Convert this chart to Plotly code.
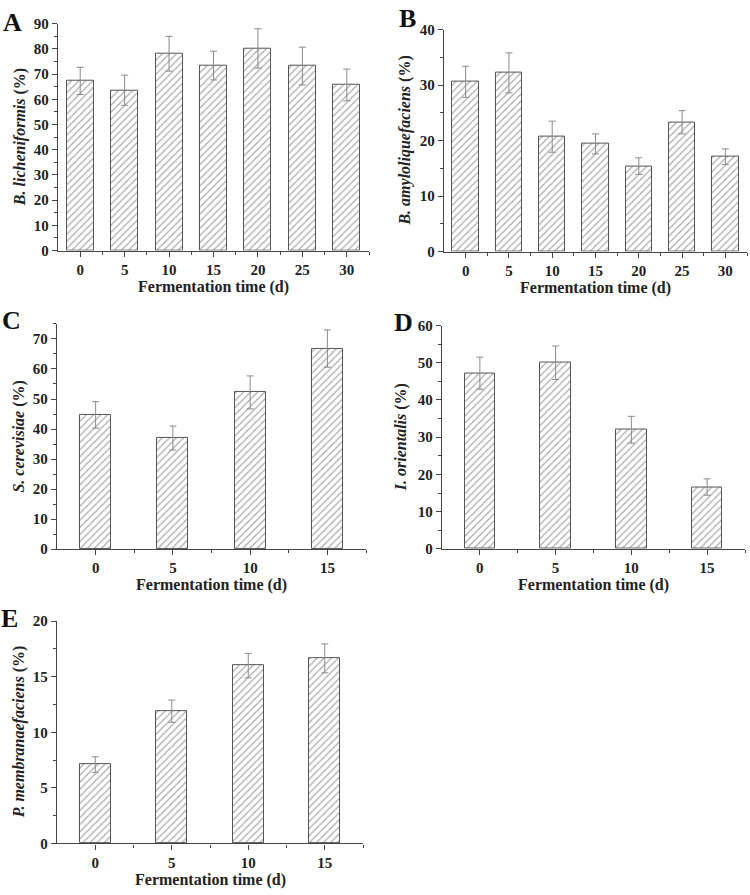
import plotly.graph_objects as go

W, H = 750, 895

# ---------------- data ----------------
days_long = [0, 5, 10, 15, 20, 25, 30]
days_short = [0, 5, 10, 15]

b_lich = [67.3, 63.6, 78.1, 73.4, 80.2, 73.2, 65.7]
b_lich_err = [5.4, 6.0, 6.9, 5.7, 7.8, 7.5, 6.3]

b_amyl = [30.6, 32.2, 20.7, 19.4, 15.4, 23.3, 17.1]
b_amyl_err = [2.8, 3.6, 2.8, 1.8, 1.5, 2.1, 1.4]

s_cer = [44.7, 37.0, 52.2, 66.8]
s_cer_err = [4.4, 4.0, 5.5, 6.2]

i_ori = [47.2, 50.0, 32.0, 16.6]
i_ori_err = [4.3, 4.5, 3.6, 2.2]

p_mem = [7.1, 11.9, 16.0, 16.65]
p_mem_err = [0.7, 1.0, 1.1, 1.3]

panels = [
    # letter, x, y, err, ytitle, ymax, ydtick, yminor
    ("A", days_long, b_lich, b_lich_err, "B. licheniformis", 90, 10, 5),
    ("B", days_long, b_amyl, b_amyl_err, "B. amyloliquefaciens", 40, 10, 5),
    ("C", days_short, s_cer, s_cer_err, "S. cerevisiae", 75, 10, 5),
    ("D", days_short, i_ori, i_ori_err, "I. orientalis", 60, 10, 5),
    ("E", days_short, p_mem, p_mem_err, "P. membranaefaciens", 20, 5, 2.5),
]

# pixel layout of each axes box: (left, right, bottom(y of 0), top)
boxes = [
    (58, 369, 247, 16),
    (444, 747, 248, 22),
    (57, 366, 551, 321.7),
    (442, 745, 550.7, 323.3),
    (57, 363, 850.7, 624.3),
]
letter_pos = [(12, 15), (407, 11), (11, 318), (403, 320), (9, 622)]
ytitle_x = [20, 405, 19, 401, 19]

FONT = "Liberation Serif"
AXC = "#444444"

fig = go.Figure()
annotations = []
layout = {}

for i, ((letter, xs, ys, es, ytitle, ymax, ydt, ymin_dt), (l, r, b, t)) in enumerate(zip(panels, boxes)):
    n = i + 1
    xa = "xaxis" if n == 1 else f"xaxis{n}"
    ya = "yaxis" if n == 1 else f"yaxis{n}"
    xr = "x" if n == 1 else f"x{n}"
    yr = "y" if n == 1 else f"y{n}"
    long = len(xs) == 7
    width = 3.05 if long else 2.0
    xrange = [-2.5, 32.5] if long else [-2.5, 17.5]

    fig.add_trace(go.Bar(
        x=xs, y=ys, width=width, xaxis=xr, yaxis=yr,
        marker=dict(color="white",
                    line=dict(color="#555555", width=1),
                    pattern=dict(shape="/", fgcolor="#555555", bgcolor="white",
                                 size=5, solidity=0.25)),
        error_y=dict(type="data", array=es, visible=True, color="#8a8a8a",
                     thickness=1, width=3.5),
        showlegend=False, hoverinfo="skip",
    ))

    layout[xa] = dict(
        domain=[l / W, r / W], anchor=yr, range=xrange,
        tickmode="array", tickvals=xs, ticktext=[str(v) for v in xs],
        ticks="outside", ticklen=5, tickwidth=1.2, tickcolor=AXC,
        showline=True, linecolor=AXC, linewidth=1.3, showgrid=False, zeroline=False,
        tickfont=dict(family=FONT, size=15, color="#222", weight="bold"),
        minor=dict(tickmode="array", tickvals=[v + 2.5 for v in xs[:-1]] + [xs[-1] + 2.5],
                   ticks="outside", ticklen=3, tickwidth=1, tickcolor=AXC),
    )
    layout[ya] = dict(
        domain=[1 - b / H, 1 - t / H], anchor=xr, range=[0, ymax],
        tick0=0, dtick=ydt, ticks="outside", ticklen=5, tickwidth=1.2, tickcolor=AXC,
        showline=True, linecolor=AXC, linewidth=1.3, showgrid=False, zeroline=False,
        tickfont=dict(family=FONT, size=15, color="#222", weight="bold"),
        minor=dict(dtick=ymin_dt, ticks="outside", ticklen=3, tickwidth=1, tickcolor=AXC),
    )

    # panel letter
    lx, ly = letter_pos[i]
    annotations.append(dict(text=f"<b>{letter}</b>", x=lx / W, y=1 - ly / H, xref="paper", yref="paper",
                            xanchor="center", yanchor="middle", showarrow=False,
                            font=dict(family=FONT, size=26, color="#111")))
    # y title
    annotations.append(dict(text=f"<b><i>{ytitle}</i> (%)</b>", x=ytitle_x[i] / W, y=1 - (b + t) / 2 / H,
                            xref="paper", yref="paper", textangle=-90,
                            xanchor="center", yanchor="middle", showarrow=False,
                            font=dict(family=FONT, size=16, color="#222")))
    # x title
    annotations.append(dict(text="<b>Fermentation time (d)</b>", x=(l + r) / 2 / W, y=1 - (b + 37) / H,
                            xref="paper", yref="paper",
                            xanchor="center", yanchor="middle", showarrow=False,
                            font=dict(family=FONT, size=16, color="#222")))

fig.update_layout(
    width=W, height=H, margin=dict(l=0, r=0, t=0, b=0),
    paper_bgcolor="white", plot_bgcolor="white",
    annotations=annotations, bargap=0, **layout,
)

fig.write_html("out.html", config={"displayModeBar": False},
               post_script="document.body.style.margin='0';document.body.style.overflow='hidden';")
